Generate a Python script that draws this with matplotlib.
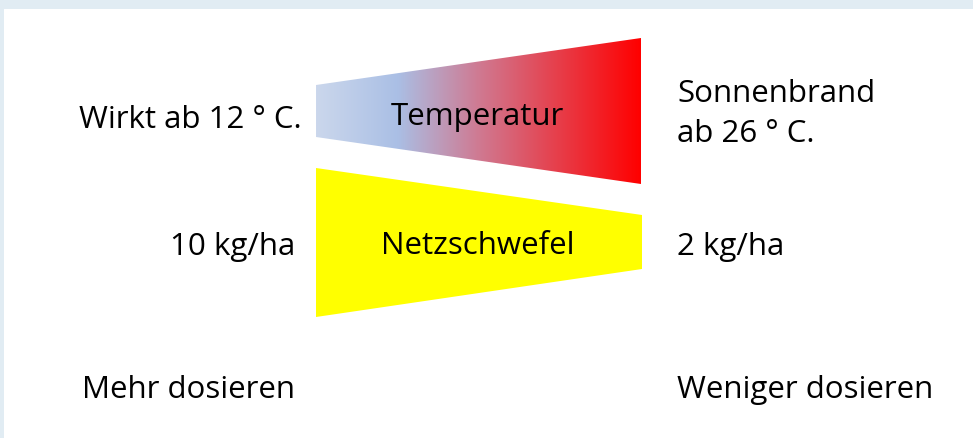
import numpy as np
import matplotlib.pyplot as plt
from matplotlib.patches import Polygon
from matplotlib.colors import LinearSegmentedColormap

plt.rcParams['font.family'] = ['Open Sans', 'DejaVu Sans']

# Trapez-Geometrie (Pixel-Koordinaten, y nach unten)
temp_x = [316, 641, 641, 316]
temp_y = [85, 38, 184, 137]
schwefel_x = [316, 642, 642, 316]
schwefel_y = [168, 215, 269, 317]

# Farbverlauf Temperatur
grad_pos = [0.0, 0.25, 0.5, 1.0]
grad_col = ['#cbd7ec', '#aabfe5', '#cf7a92', '#ff0000']

# Beschriftungen
links = ["Wirkt ab 12 ° C.", "10 kg/ha", "Mehr dosieren"]
rechts = ["Sonnenbrand\nab 26 ° C.", "2 kg/ha", "Weniger dosieren"]
mitte = ["Temperatur", "Netzschwefel"]

W, H = 973, 438
fig = plt.figure(figsize=(W / 100, H / 100), dpi=100)
fig.patch.set_facecolor('#e1ecf3')
ax = fig.add_axes([4 / W, 0, 1 - 4 / W, 1 - 9 / H])
ax.set_xlim(4, W)
ax.set_ylim(H, 9)
ax.set_facecolor('white')
ax.axis('off')
ax.add_patch(plt.Rectangle((4, 9), W, H, color='white', zorder=0))

# Temperatur-Trapez mit Verlauf
cmap = LinearSegmentedColormap.from_list('temp', list(zip(grad_pos, grad_col)))
poly = Polygon(np.column_stack([temp_x, temp_y]), closed=True, facecolor='none', edgecolor='none')
ax.add_patch(poly)
grad = np.linspace(0, 1, 256).reshape(1, -1)
im = ax.imshow(grad, cmap=cmap, extent=[min(temp_x), max(temp_x), max(temp_y), min(temp_y)],
               aspect='auto', zorder=1)
im.set_clip_path(poly)

# Netzschwefel-Trapez
ax.add_patch(Polygon(np.column_stack([schwefel_x, schwefel_y]), closed=True,
                     facecolor='#ffff00', edgecolor='none', zorder=1))

fs = 22.5
ax.text(477, 117, mitte[0], ha='center', va='center', fontsize=fs, zorder=3)
ax.text(478, 246, mitte[1], ha='center', va='center', fontsize=fs, zorder=3)

ax.text(302, 120, links[0], ha='right', va='center', fontsize=fs)
ax.text(295, 247, links[1], ha='right', va='center', fontsize=fs)
ax.text(82, 390, links[2], ha='left', va='center', fontsize=fs)

ax.text(677, 114, rechts[0], ha='left', va='center', fontsize=fs, linespacing=1.45)
ax.text(677, 247, rechts[1], ha='left', va='center', fontsize=fs)
ax.text(677, 390, rechts[2], ha='left', va='center', fontsize=fs)

fig.savefig('out.png', dpi=100, facecolor=fig.get_facecolor())
